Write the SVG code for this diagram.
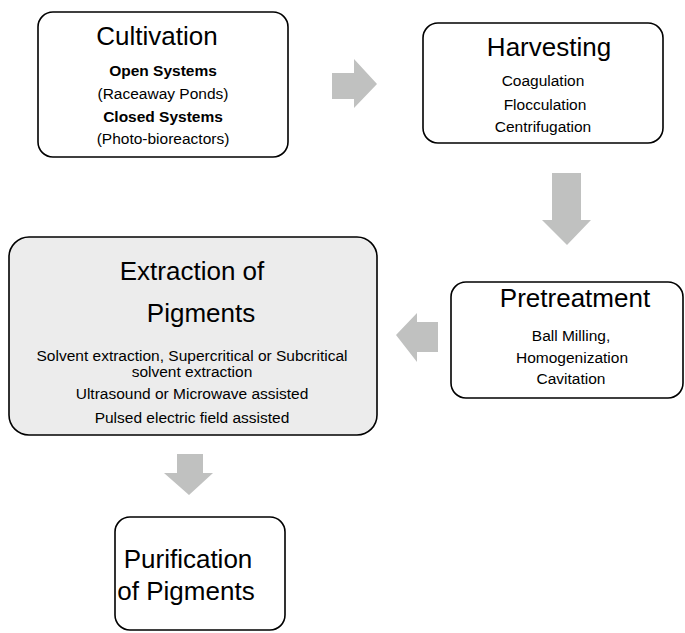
<svg xmlns="http://www.w3.org/2000/svg" width="685" height="633" viewBox="0 0 685 633">
  <style>
    .box { fill: #ffffff; stroke: #000000; stroke-width: 1.6; }
    .box.shaded { fill: #ececec; }
    .title { font-family: "Liberation Sans", Arial, sans-serif; font-size: 26px; fill: #000000; text-anchor: middle; }
    .item { font-family: "Liberation Sans", Arial, sans-serif; font-size: 15.5px; fill: #000000; text-anchor: middle; }
    .bold { font-weight: bold; }
    .arrow { fill: #c0c1c0; stroke: none; }
  </style>

  <!-- block arrows between stages -->
  <g id="connectors">
    <polygon class="arrow" points="332,73 354,73 354,59 377,84 354,108 354,99 332,99"/>
    <polygon class="arrow" points="552,173 581,173 581,220 591,220 567,245 542,220 552,220"/>
    <polygon class="arrow" points="438,322 417,322 417,313 396,335 417,362 417,352 438,352"/>
    <polygon class="arrow" points="177,454 203,454 203,473 213,473 189,495 164,473 177,473"/>
  </g>

  <g id="cultivation">
    <rect class="box" x="38" y="12" width="250" height="145" rx="15"/>
    <text class="title" x="157" y="45">Cultivation</text>
    <text class="item bold" x="163" y="76">Open Systems</text>
    <text class="item" x="163" y="99">(Raceaway Ponds)</text>
    <text class="item bold" x="163" y="122">Closed Systems</text>
    <text class="item" x="163" y="144">(Photo-bioreactors)</text>
  </g>

  <g id="harvesting">
    <rect class="box" x="423" y="23" width="240" height="120" rx="15"/>
    <text class="title" x="549" y="56">Harvesting</text>
    <text class="item" x="543" y="86">Coagulation</text>
    <text class="item" x="545" y="110">Flocculation</text>
    <text class="item" x="543" y="132">Centrifugation</text>
  </g>

  <g id="pretreatment">
    <rect class="box" x="451" y="282" width="232" height="116" rx="15"/>
    <text class="title" x="575" y="307">Pretreatment</text>
    <text class="item" x="571" y="341">Ball Milling,</text>
    <text class="item" x="572" y="363">Homogenization</text>
    <text class="item" x="571" y="384">Cavitation</text>
  </g>

  <g id="extraction">
    <rect class="box shaded" x="9" y="237" width="368" height="198" rx="20"/>
    <text class="title" x="192" y="280">Extraction of</text>
    <text class="title" x="201" y="322">Pigments</text>
    <text class="item" x="192" y="361">Solvent extraction, Supercritical or Subcritical</text>
    <text class="item" x="192" y="377">solvent extraction</text>
    <text class="item" x="192" y="399">Ultrasound or Microwave assisted</text>
    <text class="item" x="192" y="423">Pulsed electric field assisted</text>
  </g>

  <g id="purification">
    <rect class="box" x="115" y="517" width="170" height="113" rx="15"/>
    <text class="title" x="188" y="568">Purification</text>
    <text class="title" x="186" y="600">of Pigments</text>
  </g>
</svg>
